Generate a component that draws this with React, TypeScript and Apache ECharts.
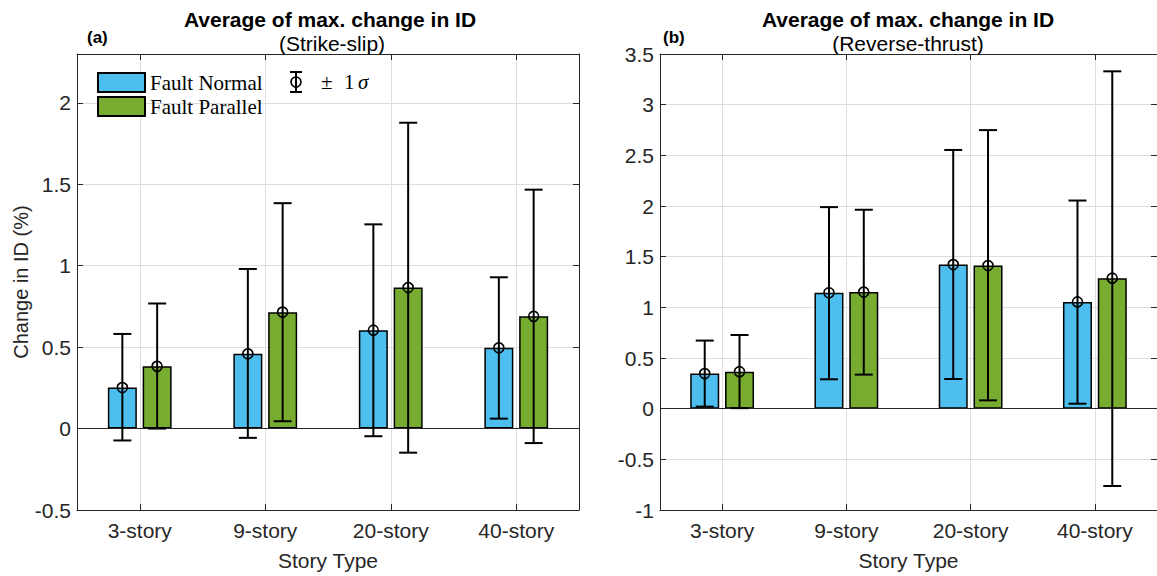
import React, { useEffect, useRef } from "react";
import * as echarts from "echarts";

const categories = ["3-story", "9-story", "20-story", "40-story"];
const seriesNames = ["Fault Normal", "Fault Parallel"];

// (a) Strike-slip
const ssNormalMean = [0.252, 0.459, 0.604, 0.496];
const ssNormalLow = [-0.073, -0.057, -0.047, 0.061];
const ssNormalHigh = [0.581, 0.98, 1.254, 0.929];
const ssParallelMean = [0.382, 0.715, 0.866, 0.689];
const ssParallelLow = [0.0, 0.045, -0.148, -0.089];
const ssParallelHigh = [0.768, 1.384, 1.878, 1.467];

// (b) Reverse-thrust
const rtNormalMean = [0.346, 1.144, 1.422, 1.053];
const rtNormalLow = [0.02, 0.29, 0.293, 0.049];
const rtNormalHigh = [0.672, 1.989, 2.553, 2.054];
const rtParallelMean = [0.365, 1.151, 1.412, 1.288];
const rtParallelLow = [0.005, 0.336, 0.082, -0.763];
const rtParallelHigh = [0.727, 1.963, 2.749, 3.329];

const BLUE = "#4DBEEE";
const GREEN = "#77AC30";
const AXIS = "#262626";
const GRIDC = "#dedede";
const SANS = "Liberation Sans, Arial, sans-serif";
const SERIF = "Liberation Serif, Times New Roman, serif";
const BAR_W = 29;
const OFFSET = 17.4;

function barSeries(name: string, color: string, axis: number, values: number[], zero: boolean) {
  const s: any = {
    type: "bar",
    name,
    xAxisIndex: axis * 2,
    yAxisIndex: axis * 2,
    data: values,
    barWidth: BAR_W,
    barGap: "20%",
    itemStyle: { color, borderColor: "#000", borderWidth: 1.5 },
    z: 2,
  };
  if (zero) {
    s.markLine = {
      silent: true,
      symbol: "none",
      label: { show: false },
      lineStyle: { color: AXIS, width: 1, type: "solid" },
      data: [{ yAxis: 0 }],
    };
  }
  return s;
}

function errSeries(axis: number, mean: number[], low: number[], high: number[], offset: number) {
  return {
    type: "custom",
    name: "err",
    xAxisIndex: axis * 2,
    yAxisIndex: axis * 2,
    z: 10,
    data: categories.map((_, i) => [i, low[i], high[i], mean[i]]),
    encode: { x: 0, y: [1, 2] },
    renderItem: (params: any, api: any) => {
      const i = api.value(0);
      const lo = api.coord([i, api.value(1)]);
      const hi = api.coord([i, api.value(2)]);
      const mid = api.coord([i, api.value(3)]);
      const x = lo[0] + offset;
      const cap = 9;
      const st = { stroke: "#000", lineWidth: 2, fill: "none" };
      return {
        type: "group",
        children: [
          { type: "line", shape: { x1: x, y1: hi[1], x2: x, y2: lo[1] }, style: st },
          { type: "line", shape: { x1: x - cap, y1: hi[1], x2: x + cap, y2: hi[1] }, style: st },
          { type: "line", shape: { x1: x - cap, y1: lo[1], x2: x + cap, y2: lo[1] }, style: st },
          { type: "circle", shape: { cx: x, cy: mid[1], r: 5 }, style: { stroke: "#000", lineWidth: 1.6, fill: "none" } },
        ],
      };
    },
  };
}

function xAxes(grid: number, withName: boolean) {
  return [
    {
      type: "category",
      gridIndex: grid,
      data: categories,
      position: "bottom",
      boundaryGap: true,
      axisLine: { show: true, onZero: false, lineStyle: { color: AXIS, width: 1 } },
      axisTick: { show: true, inside: true, alignWithLabel: true, length: 6, lineStyle: { color: AXIS } },
      axisLabel: { fontSize: 21, color: AXIS, fontFamily: SANS, margin: 10 },
      splitLine: { show: true, alignWithLabel: true, lineStyle: { color: GRIDC, width: 1 } },
      name: withName ? "Story Type" : "",
      nameLocation: "middle",
      nameGap: 40,
      nameTextStyle: { fontSize: 21, color: AXIS, fontFamily: SANS },
    },
    {
      type: "category",
      gridIndex: grid,
      data: categories,
      position: "top",
      boundaryGap: true,
      axisLine: { show: true, onZero: false, lineStyle: { color: AXIS, width: 1 } },
      axisTick: { show: true, inside: true, alignWithLabel: true, length: 6, lineStyle: { color: AXIS } },
      axisLabel: { show: false },
      splitLine: { show: false },
    },
  ];
}

function yAxes(grid: number, min: number, max: number, name: string) {
  return [
    {
      type: "value",
      gridIndex: grid,
      position: "left",
      min,
      max,
      interval: 0.5,
      axisLine: { show: true, onZero: false, lineStyle: { color: AXIS, width: 1 } },
      axisTick: { show: true, inside: true, length: 6, lineStyle: { color: AXIS } },
      axisLabel: { fontSize: 21, color: AXIS, fontFamily: SANS, margin: 6, showMaxLabel: max % 0.5 === 0 },
      splitLine: { show: true, lineStyle: { color: GRIDC, width: 1 } },
      name,
      nameLocation: "middle",
      nameGap: 44,
      nameTextStyle: { fontSize: 20, color: AXIS, fontFamily: SANS },
    },
    {
      type: "value",
      gridIndex: grid,
      position: "right",
      min,
      max,
      interval: 0.5,
      axisLine: { show: true, onZero: false, lineStyle: { color: AXIS, width: 1 } },
      axisTick: { show: true, inside: true, length: 6, lineStyle: { color: AXIS } },
      axisLabel: { show: false },
      splitLine: { show: false },
    },
  ];
}

export default function App() {
  const ref = useRef<HTMLDivElement>(null);
  useEffect(() => {
    if (!ref.current) return;
    const chart = echarts.init(ref.current, undefined, { renderer: "svg" });
    const option: any = {
      animation: false,
      backgroundColor: "#fff",
      grid: [
        { left: 77, top: 54, width: 502, height: 459 },
        { left: 660, top: 54, width: 500, height: 459 },
      ],
      xAxis: [...xAxes(0, true), ...xAxes(1, true)],
      yAxis: [...yAxes(0, -0.5, 2.3, "Change in ID (%)"), ...yAxes(1, -1, 3.5, "")],
      legend: {
        data: seriesNames,
        orient: "vertical",
        left: 97,
        top: 72,
        padding: 0,
        itemWidth: 47,
        itemHeight: 19,
        itemGap: 3,
        icon: "rect",
        textStyle: { fontFamily: SERIF, fontSize: 21, color: "#000" },
        selectedMode: false,
      },
      graphic: [
        { type: "text", x: 330, y: 19, style: { text: "Average of max. change in ID", font: `bold 21px ${SANS}`, fill: "#000", align: "center", verticalAlign: "middle" } },
        { type: "text", x: 332, y: 43, style: { text: "(Strike-slip)", font: `21px ${SANS}`, fill: "#000", align: "center", verticalAlign: "middle" } },
        { type: "text", x: 87, y: 37, style: { text: "(a)", font: `bold 17px ${SANS}`, fill: "#000", align: "left", verticalAlign: "middle" } },
        { type: "text", x: 908, y: 19, style: { text: "Average of max. change in ID", font: `bold 21px ${SANS}`, fill: "#000", align: "center", verticalAlign: "middle" } },
        { type: "text", x: 908, y: 43, style: { text: "(Reverse-thrust)", font: `21px ${SANS}`, fill: "#000", align: "center", verticalAlign: "middle" } },
        { type: "text", x: 663, y: 37, style: { text: "(b)", font: `bold 17px ${SANS}`, fill: "#000", align: "left", verticalAlign: "middle" } },
        {
          type: "group",
          children: [
            { type: "line", shape: { x1: 296, y1: 72, x2: 296, y2: 92 }, style: { stroke: "#000", lineWidth: 2 } },
            { type: "line", shape: { x1: 290, y1: 72, x2: 302, y2: 72 }, style: { stroke: "#000", lineWidth: 2 } },
            { type: "line", shape: { x1: 290, y1: 92, x2: 302, y2: 92 }, style: { stroke: "#000", lineWidth: 2 } },
            { type: "circle", shape: { cx: 296, cy: 82, r: 5 }, style: { stroke: "#000", lineWidth: 1.6, fill: "none" } },
          ],
        },
        { type: "text", x: 321, y: 82, style: { text: "±", font: `21px ${SERIF}`, fill: "#000", align: "left", verticalAlign: "middle" } },
        { type: "text", x: 344, y: 82, style: { text: "1", font: `21px ${SERIF}`, fill: "#000", align: "left", verticalAlign: "middle" } },
        { type: "text", x: 358, y: 82, style: { text: "σ", font: `italic 21px ${SERIF}`, fill: "#000", align: "left", verticalAlign: "middle" } },
      ],
      series: [
        barSeries(seriesNames[0], BLUE, 0, ssNormalMean, true),
        barSeries(seriesNames[1], GREEN, 0, ssParallelMean, false),
        barSeries(seriesNames[0], BLUE, 1, rtNormalMean, true),
        barSeries(seriesNames[1], GREEN, 1, rtParallelMean, false),
        errSeries(0, ssNormalMean, ssNormalLow, ssNormalHigh, -OFFSET),
        errSeries(0, ssParallelMean, ssParallelLow, ssParallelHigh, OFFSET),
        errSeries(1, rtNormalMean, rtNormalLow, rtNormalHigh, -OFFSET),
        errSeries(1, rtParallelMean, rtParallelLow, rtParallelHigh, OFFSET),
      ],
    };
    chart.setOption(option);
    return () => chart.dispose();
  }, []);
  return (
    <div
      ref={ref}
      style={{ position: "absolute", left: 0, top: 0, width: 1157, height: 576 }}
    />
  );
}
